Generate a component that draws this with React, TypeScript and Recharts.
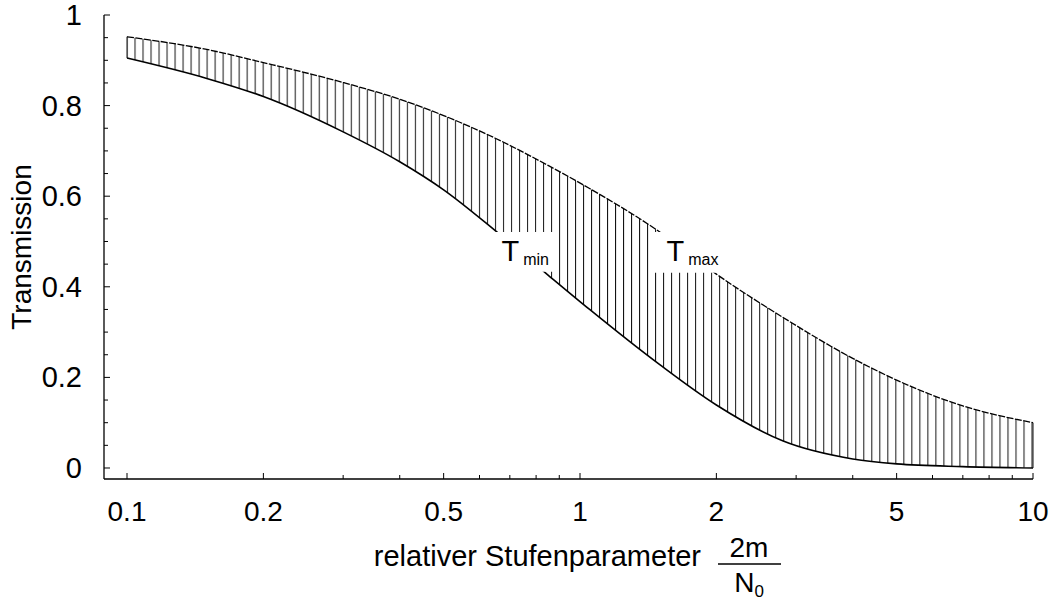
import React from 'react';
import { ComposedChart, Line, Area, XAxis, YAxis, ReferenceArea, ReferenceLine } from 'recharts';

const stufen = [0.1, 0.15, 0.2, 0.3, 0.4, 0.5, 0.65, 0.85, 1.05, 1.5, 2, 2.8, 4, 5, 7, 10];
const tMin = [0.905, 0.86, 0.82, 0.742, 0.676, 0.614, 0.524, 0.426, 0.35, 0.228, 0.139, 0.06, 0.02, 0.009, 0.003, 0.0];
const tMax = [0.952, 0.924, 0.895, 0.851, 0.814, 0.778, 0.728, 0.668, 0.617, 0.521, 0.428, 0.333, 0.242, 0.194, 0.137, 0.1];

const xTicks = [0.1, 0.2, 0.3, 0.4, 0.5, 0.6, 0.7, 0.8, 0.9, 1, 2, 3, 4, 5, 6, 7, 8, 9, 10];
const xMajorTicks = [0.1, 0.2, 0.5, 1, 2, 5, 10];
const yTicks = [0, 0.05, 0.1, 0.15, 0.2, 0.25, 0.3, 0.35, 0.4, 0.45, 0.5, 0.55, 0.6, 0.65, 0.7, 0.75, 0.8, 0.85, 0.9, 0.95, 1];
const yMajorTicks = [0, 0.2, 0.4, 0.6, 0.8, 1];

const minLabelBox = { x1: 0.644, x2: 0.887, y1: 0.433, y2: 0.521 };
const maxLabelBox = { x1: 1.446, x2: 2.065, y1: 0.431, y2: 0.521 };

const data = stufen.map((s, i) => ({ s, tmin: tMin[i], tmax: tMax[i], band: [tMin[i], tMax[i]] }));

const FONT = '"Liberation Sans", Arial, Helvetica, sans-serif';

const XTick = (props: any) => {
  const { x, y, payload } = props;
  const major = xMajorTicks.includes(payload.value);
  return (
    <g>
      <line x1={x} x2={x} y1={y} y2={y - (major ? 6 : 4)} stroke="#000" strokeWidth={1} />
      {major && (
        <text x={x} y={y + 42} textAnchor="middle" fontSize={28} fontFamily={FONT} fill="#000">
          {String(payload.value)}
        </text>
      )}
    </g>
  );
};

const YTick = (props: any) => {
  const { x, y, payload } = props;
  const major = yMajorTicks.includes(payload.value);
  return (
    <g>
      <line x1={x} x2={x + (major ? 6 : 4)} y1={y} y2={y} stroke="#000" strokeWidth={1} />
      {major && (
        <text x={x - 22} y={y + 10} textAnchor="end" fontSize={29} fontFamily={FONT} fill="#000">
          {String(payload.value)}
        </text>
      )}
    </g>
  );
};

const XLabel = (props: any) => {
  const vb = props.viewBox;
  const bx = vb.x;
  const by = vb.y;
  return (
    <g fontFamily={FONT} fill="#000">
      <text x={bx + 597} y={by + 87} textAnchor="end" fontSize={29}>relativer Stufenparameter</text>
      <text x={bx + 645} y={by + 78} textAnchor="middle" fontSize={28}>2m</text>
      <line x1={bx + 614} x2={bx + 677} y1={by + 85} y2={by + 85} stroke="#000" strokeWidth={1.5} />
      <text x={bx + 645} y={by + 113} textAnchor="middle" fontSize={28}>
        N<tspan fontSize={17} dy={5}>0</tspan>
      </text>
    </g>
  );
};

const YLabel = (props: any) => {
  const vb = props.viewBox;
  const cx = vb.x + 31;
  const cy = vb.y + vb.height / 2;
  return (
    <text transform={`translate(${cx},${cy}) rotate(-90)`} textAnchor="middle" fontSize={28} fontFamily={FONT} fill="#000">
      Transmission
    </text>
  );
};

const makeBoxLabel = (sub: string) => (props: any) => {
  const vb = props.viewBox;
  return (
    <text x={vb.x + (sub === 'min' ? 8 : 14)} y={vb.y + 29} fontSize={29} fontFamily={FONT} fill="#000">
      T<tspan fontSize={16} dx={4} dy={4}>{sub}</tspan>
    </text>
  );
};

export default function App() {
  return (
    <div style={{ position: 'absolute', left: 0, top: 0, background: '#fff' }}>
      <ComposedChart width={1054} height={601} data={data} margin={{ top: 15, right: 21, bottom: 0, left: 0 }}>
        <defs>
          <pattern id="hatch" patternUnits="userSpaceOnUse" x={126.5} y={0} width={8.009} height={10}>
            <line x1={0.5} x2={0.5} y1={0} y2={10} stroke="#111" strokeWidth={1} />
          </pattern>
        </defs>
        <XAxis
          dataKey="s"
          type="number"
          scale="log"
          domain={[0.08896, 10]}
          allowDataOverflow
          ticks={xTicks}
          interval={0}
          height={122}
          tickSize={0}
          tickMargin={0}
          tick={<XTick />}
          tickLine={false}
          axisLine={{ stroke: '#000', strokeWidth: 1.3 }}
          label={{ content: <XLabel /> }}
        />
        <YAxis
          type="number"
          domain={[-0.0243, 1]}
          allowDataOverflow
          ticks={yTicks}
          interval={0}
          width={104}
          tickSize={0}
          tickMargin={0}
          tick={<YTick />}
          tickLine={false}
          axisLine={{ stroke: '#000', strokeWidth: 1.3 }}
          label={{ content: <YLabel /> }}
        />
        <Area
          dataKey="band"
          type="monotone"
          stroke="none"
          fill="url(#hatch)"
          fillOpacity={1}
          isAnimationActive={false}
          activeDot={false}
        />
        <Line dataKey="tmin" type="monotone" stroke="#000" strokeWidth={1.6} dot={false} activeDot={false} isAnimationActive={false} />
        <Line dataKey="tmax" type="monotone" stroke="#000" strokeWidth={1.3} strokeDasharray="7 1.5" dot={false} activeDot={false} isAnimationActive={false} />
        <ReferenceLine
          segment={[{ x: stufen[0], y: tMin[0] }, { x: stufen[0], y: tMax[0] }]}
          stroke="#111"
          strokeWidth={1}
        />
        <ReferenceLine
          segment={[{ x: stufen[stufen.length - 1], y: tMin[tMin.length - 1] }, { x: stufen[stufen.length - 1], y: tMax[tMax.length - 1] }]}
          stroke="#111"
          strokeWidth={1}
        />
        <ReferenceArea
          x1={minLabelBox.x1}
          x2={minLabelBox.x2}
          y1={minLabelBox.y1}
          y2={minLabelBox.y2}
          fill="#fff"
          fillOpacity={1}
          stroke="none"
          zIndex={1000}
          label={{ content: makeBoxLabel('min') }}
        />
        <ReferenceArea
          x1={maxLabelBox.x1}
          x2={maxLabelBox.x2}
          y1={maxLabelBox.y1}
          y2={maxLabelBox.y2}
          fill="#fff"
          fillOpacity={1}
          stroke="none"
          zIndex={1000}
          label={{ content: makeBoxLabel('max') }}
        />
      </ComposedChart>
    </div>
  );
}
